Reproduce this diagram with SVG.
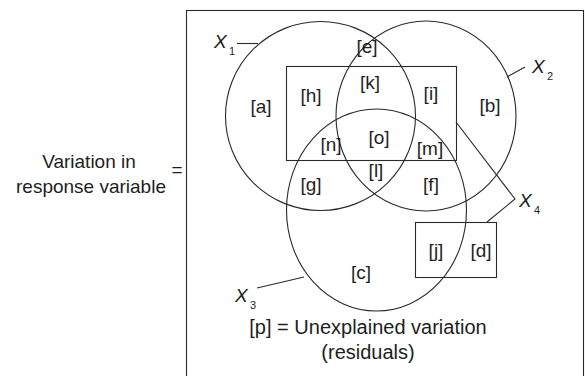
<svg xmlns="http://www.w3.org/2000/svg" width="585" height="376" viewBox="0 0 585 376">
<style>
text{font-family:"Liberation Sans",Arial,sans-serif;fill:#1e1e1e}
.lbl{font-size:19px;text-anchor:middle}
.big{font-size:20px}
.x{font-size:19px;font-style:italic}
.sub{font-size:11px}
.sh{fill:none;stroke:#2a2a2a;stroke-width:1.1}
.ln{fill:none;stroke:#2a2a2a;stroke-width:1.1}
</style>
<rect width="585" height="376" fill="#fff"/>
<g id="frame"><rect class="sh" x="186.5" y="10.5" width="397" height="380" stroke="#555"/></g>
<g id="left-label">
<text class="lbl" x="89" y="168">Variation in</text>
<text class="lbl" x="91" y="193">response variable</text>
<text class="lbl" x="177" y="176">=</text>
</g>
<g id="X1"><ellipse class="sh" cx="320.5" cy="116" rx="95" ry="94.5"/>
<text class="x" x="214" y="48">X</text><text class="sub" x="229" y="55">1</text></g>
<g id="X2"><ellipse class="sh" cx="426" cy="116" rx="90" ry="95"/>
<text class="x" x="532" y="73">X</text><text class="sub" x="547" y="80">2</text></g>
<g id="X3"><ellipse class="sh" cx="376.5" cy="210" rx="90" ry="101"/>
<text class="x" x="235" y="302">X</text><text class="sub" x="250" y="309">3</text></g>
<g id="X4"><rect class="sh" x="286.5" y="66.5" width="170" height="94"/>
<rect class="sh" x="415.5" y="222.5" width="81" height="55"/>
<text class="x" x="519" y="207">X</text><text class="sub" x="534" y="214">4</text></g>
<g id="connectors">
<line class="ln" x1="237" y1="43.5" x2="258" y2="43.5"/>
<line class="ln" x1="507" y1="77" x2="525" y2="67"/>
<line class="ln" x1="257" y1="288" x2="304" y2="277"/>
<polyline class="ln" points="456,122 515,199 487,222"/>
</g>
<g id="fractions">
<text class="lbl" x="367" y="53">[e]</text>
<text class="lbl" x="370" y="89">[k]</text>
<text class="lbl" x="311" y="102">[h]</text>
<text class="lbl" x="261" y="113">[a]</text>
<text class="lbl" x="431" y="100">[i]</text>
<text class="lbl" x="490" y="112">[b]</text>
<text class="lbl" x="379" y="144">[o]</text>
<text class="lbl" x="331" y="151">[n]</text>
<text class="lbl" x="430" y="155">[m]</text>
<text class="lbl" x="376" y="177">[l]</text>
<text class="lbl" x="311" y="191">[g]</text>
<text class="lbl" x="431" y="191">[f]</text>
<text class="lbl" x="361" y="279">[c]</text>
<text class="lbl" x="436" y="257">[j]</text>
<text class="lbl" x="481" y="257">[d]</text>
</g>
<g id="footer">
<text class="lbl big" x="368" y="334">[p] = Unexplained variation</text>
<text class="lbl big" x="368" y="359">(residuals)</text>
</g>
</svg>
